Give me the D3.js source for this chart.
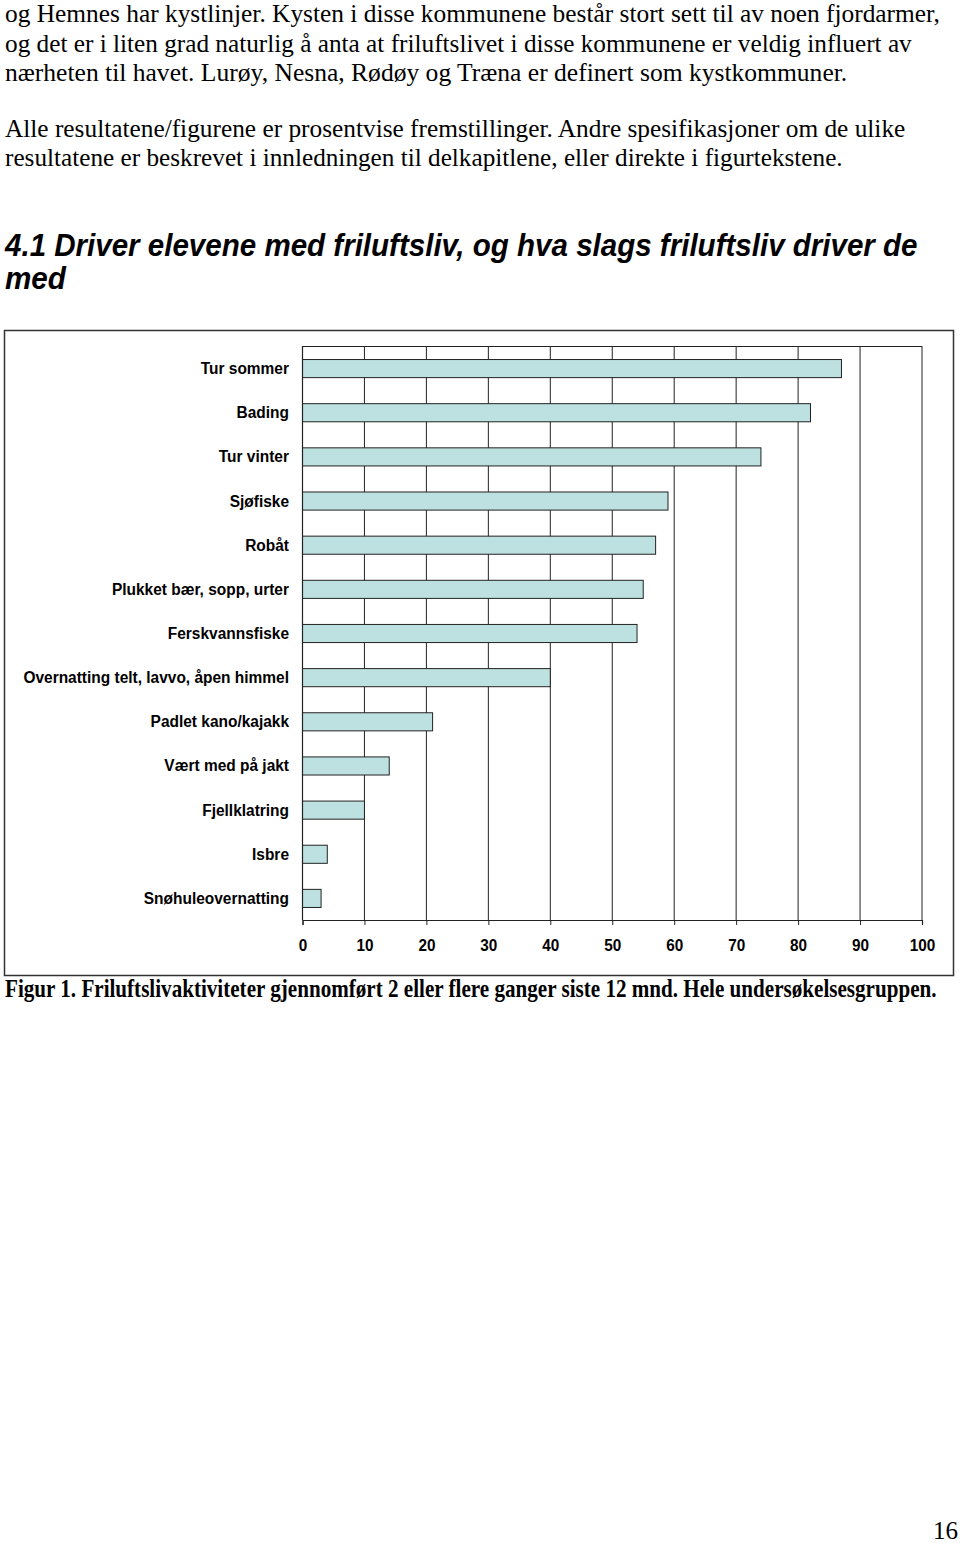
<!DOCTYPE html>
<html><head><meta charset="utf-8">
<script src="https://cdn.jsdelivr.net/npm/d3@7"></script>
<style>html,body{margin:0;padding:0;background:#fff;}svg{display:block;}</style>
</head><body>
<script>
const categories = ["Tur sommer","Bading","Tur vinter","Sjøfiske","Robåt","Plukket bær, sopp, urter","Ferskvannsfiske","Overnatting telt, lavvo, åpen himmel","Padlet kano/kajakk","Vært med på jakt","Fjellklatring","Isbre","Snøhuleovernatting"];
const values = [87, 82, 74, 59, 57, 55, 54, 40, 21, 14, 10, 4, 3];
const tickValues = [0,10,20,30,40,50,60,70,80,90,100];
const bodyLines = [
  "og Hemnes har kystlinjer. Kysten i disse kommunene består stort sett til av noen fjordarmer,",
  "og det er i liten grad naturlig å anta at friluftslivet i disse kommunene er veldig influert av",
  "nærheten til havet. Lurøy, Nesna, Rødøy og Træna er definert som kystkommuner.",
  "Alle resultatene/figurene er prosentvise fremstillinger. Andre spesifikasjoner om de ulike",
  "resultatene er beskrevet i innledningen til delkapitlene, eller direkte i figurtekstene."
];
const headingLines = ["4.1 Driver elevene med friluftsliv, og hva slags friluftsliv driver de","med"];
const caption = "Figur 1. Friluftslivaktiviteter gjennomført 2 eller flere ganger siste 12 mnd. Hele undersøkelsesgruppen.";
const pageNumber = "16";

const W = 960, H = 1543;
const svg = d3.select("body").append("svg").attr("width", W).attr("height", H);

// fit a text horizontally to a target width via transform scale
function fitText(sel, x, y, target) {
  sel.each(function(d, i) {
    const t = d3.select(this);
    const tx = typeof x === "function" ? x(d, i) : x;
    const ty = typeof y === "function" ? y(d, i) : y;
    const tw = typeof target === "function" ? target(d, i) : target;
    const nat = this.getComputedTextLength();
    t.attr("x", 0).attr("y", 0)
     .attr("transform", `translate(${tx},${ty}) scale(${tw / nat},1)`);
  });
}

// body text
const bodyY = [22, 52, 81, 137, 166];
const bodyW = [935, 907, 843, 901, 838];
svg.selectAll("text.body").data(bodyLines).join("text")
  .attr("class","body")
  .style("font-family","'Liberation Serif','Times New Roman',serif")
  .style("font-size","26px").style("fill","#000")
  .text(d=>d)
  .call(fitText, 5, (d,i)=>bodyY[i], (d,i)=>bodyW[i]);

// heading
const headY = [256, 289];
const headW = [913, 61];
svg.selectAll("text.head").data(headingLines).join("text")
  .attr("class","head")
  .style("font-family","'Liberation Sans',Arial,sans-serif")
  .style("font-size","31px").style("font-weight","bold").style("font-style","italic")
  .text(d=>d)
  .call(fitText, 5, (d,i)=>headY[i], (d,i)=>headW[i]);

// chart frame
svg.append("rect").attr("x",4.5).attr("y",330.5).attr("width",949).attr("height",645)
  .attr("fill","none").attr("stroke","#333").attr("stroke-width",1.5);

const x = d3.scaleLinear().domain([0,100]).range([302.5, 922]);
const y = d3.scaleBand().domain(categories).range([346, 920]).paddingInner(0.59).paddingOuter(0.295);

const g = svg.append("g");
g.selectAll("line.grid").data(tickValues).join("line")
  .attr("x1", d=>x(d)).attr("x2", d=>x(d))
  .attr("y1", 346).attr("y2", 920)
  .attr("stroke","#222").attr("stroke-width",1);
g.append("line").attr("x1", x(0)).attr("x2", x(100)).attr("y1", 346.5).attr("y2", 346.5)
  .attr("stroke","#222").attr("stroke-width",1);

g.selectAll("rect.bar").data(values).join("rect")
  .attr("x", x(0))
  .attr("y", (d,i)=>y(categories[i])+0.5)
  .attr("width", d=>x(d)-x(0))
  .attr("height", y.bandwidth())
  .attr("fill","#bde0e0").attr("stroke","#222").attr("stroke-width",1);

const xAxis = d3.axisBottom(x).tickValues(tickValues).tickSize(5).tickPadding(14).tickFormat(d3.format("d"));
const ax = svg.append("g").attr("transform","translate(0,920)").call(xAxis);
ax.select(".domain").attr("stroke","#222").attr("stroke-width",1.2);
ax.selectAll(".tick line").attr("stroke","#222");
ax.selectAll(".tick text")
  .attr("transform","scale(0.9,1)")
  .style("font-family","'Liberation Sans',Arial,sans-serif")
  .style("font-size","17px").style("font-weight","bold").attr("fill","#000");

svg.append("line").attr("x1",x(0)).attr("x2",x(0)).attr("y1",346).attr("y2",920)
  .attr("stroke","#222").attr("stroke-width",1.2);

svg.selectAll("text.cat").data(categories).join("text")
  .attr("class","cat")
  .attr("text-anchor","end").attr("dy","0.35em")
  .attr("transform", d=>`translate(289,${y(d)+y.bandwidth()/2}) scale(0.91,1)`)
  .style("font-family","'Liberation Sans',Arial,sans-serif")
  .style("font-size","17px").style("font-weight","bold")
  .text(d=>d);

svg.append("text")
  .style("font-family","'Liberation Serif','Times New Roman',serif")
  .style("font-size","25px").style("font-weight","bold")
  .text(caption)
  .call(fitText, 5, 997, 932);

svg.append("text").attr("x",958).attr("y",1539).attr("text-anchor","end")
  .style("font-family","'Liberation Serif','Times New Roman',serif")
  .style("font-size","25px")
  .text(pageNumber);
</script>
</body></html>
